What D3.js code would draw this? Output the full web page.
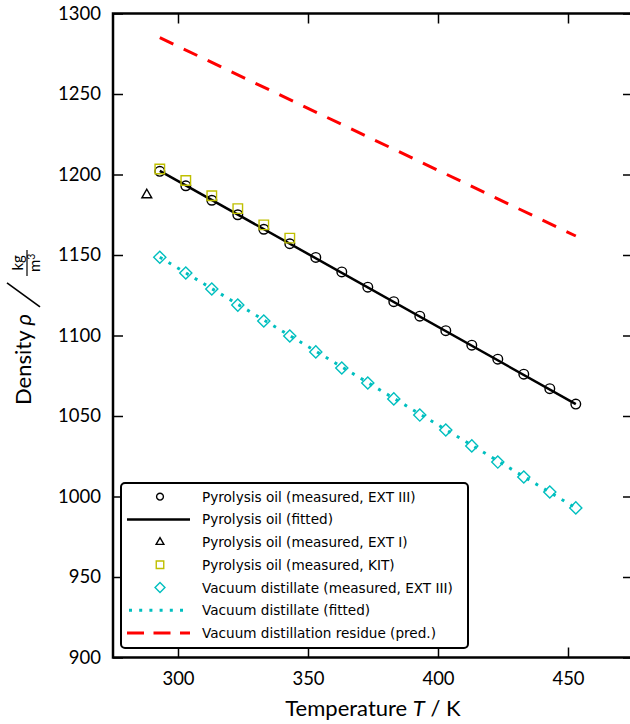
<!DOCTYPE html>
<html>
<head>
<meta charset="utf-8">
<script src="https://cdnjs.cloudflare.com/ajax/libs/d3/7.8.5/d3.min.js"></script>
<style>
  body { margin: 0; background: #fff; }
  text { font-family: Lato, "DejaVu Sans", sans-serif; fill: #000; }
  .leg { font-family: "DejaVu Sans", sans-serif; }
</style>
</head>
<body>
<script>
// measured temperatures (K)
const tempMeas = [293, 303, 313, 323, 333, 343, 353, 363, 373, 383, 393, 403, 413, 423, 433, 443, 453];
// pyrolysis oil, EXT III (kg/m3)
const pyroExt3 = [1202, 1193, 1184, 1175, 1166, 1157, 1148.5, 1139.5, 1130, 1121, 1112, 1103, 1094, 1085.3, 1076, 1067, 1057.4];
// pyrolysis oil, EXT I
const tempExt1 = [288];
const pyroExt1 = [1187.3];
// pyrolysis oil, KIT
const tempKit = [293, 303, 313, 323, 333, 343];
const pyroKit = [1203.4, 1196.3, 1186.8, 1178.8, 1168.7, 1160.5];
// vacuum distillate, EXT III
const vacMeas = [1148.6, 1138.8, 1128.9, 1118.9, 1109, 1099.7, 1089.8, 1079.8, 1070.5, 1060.6, 1050.6, 1041.3, 1031.4, 1021.4, 1012.1, 1002.8, 992.9];
// fitted / predicted lines, end points
const lineT = [293, 453];
const pyroFit = [1202.3, 1057.4];
const vacFit = [1148.6, 992.9];
const residuePred = [1285, 1161.8];

const xTicks = [300, 350, 400, 450];
const yTicks = [900, 950, 1000, 1050, 1100, 1150, 1200, 1250, 1300];

const svgWidth = 630, svgHeight = 724;
const margin = {top: 13.5, left: 113, bottom: 66.5};
const plotRight = 633;

const svg = d3.select("body").append("svg")
  .attr("width", svgWidth)
  .attr("height", svgHeight);

const x = d3.scaleLinear().domain([275, 475]).range([margin.left, plotRight]);
const y = d3.scaleLinear().domain([900, 1300]).range([svgHeight - margin.bottom, margin.top]);

const cyan = "#00bfbf", yellow = "#bfbf00", red = "#ff0000";

// axes, ticks pointing inwards
function styleAxis(g) {
  g.select(".domain").remove();
  g.selectAll(".tick line").attr("stroke", "#000").attr("stroke-width", 1.5);
  g.selectAll(".tick text").style("font-size", "18.5px").attr("fill", "#000");
}
svg.append("g")
  .attr("transform", `translate(0,${y(900)})`)
  .call(d3.axisBottom(x).tickValues(xTicks).tickSize(-10).tickPadding(14).tickFormat(d3.format("d")))
  .call(styleAxis);
svg.append("g")
  .attr("transform", `translate(0,${y(1300)})`)
  .call(d3.axisTop(x).tickValues(xTicks).tickSize(-10).tickFormat(""))
  .call(styleAxis);
svg.append("g")
  .attr("transform", `translate(${x(275)},0)`)
  .call(d3.axisLeft(y).tickValues(yTicks).tickSize(-10).tickPadding(12).tickFormat(d3.format("d")))
  .call(styleAxis);
svg.append("g")
  .attr("transform", `translate(${x(475)},0)`)
  .call(d3.axisRight(y).tickValues(yTicks).tickSize(-10).tickFormat(""))
  .call(styleAxis);

// frame
svg.append("rect")
  .attr("x", x(275)).attr("y", y(1300))
  .attr("width", x(475) - x(275)).attr("height", y(900) - y(1300))
  .attr("fill", "none").attr("stroke", "#000").attr("stroke-width", 2.5);

const line = d3.line().x(d => x(d[0])).y(d => y(d[1]));

// residue prediction
svg.append("path")
  .attr("d", line(d3.zip(lineT, residuePred)))
  .attr("fill", "none").attr("stroke", red).attr("stroke-width", 3)
  .attr("stroke-dasharray", "15,11.5");

// vacuum distillate fit
svg.append("path")
  .attr("d", line(d3.zip(lineT, vacFit)))
  .attr("fill", "none").attr("stroke", cyan).attr("stroke-width", 3)
  .attr("stroke-dasharray", "3,7.2");

// pyrolysis oil fit
svg.append("path")
  .attr("d", line(d3.zip(lineT, pyroFit)))
  .attr("fill", "none").attr("stroke", "#000").attr("stroke-width", 2.5);

const sym = {
  circle: d3.symbol().type(d3.symbolCircle).size(Math.PI * 4.8 * 4.8),
  square: d3.symbol().type(d3.symbolSquare).size(9.5 * 9.5),
  triangle: d3.symbol().type(d3.symbolTriangle).size(42),
  diamond: d3.symbol().type(d3.symbolSquare).size(8.6 * 8.6)
};

function markers(xs, ys, shape, color, rot) {
  svg.append("g").selectAll("path")
    .data(d3.zip(xs, ys))
    .join("path")
    .attr("transform", d => `translate(${x(d[0])},${y(d[1])})` + (rot ? ` rotate(${rot})` : ""))
    .attr("d", sym[shape])
    .attr("fill", "none").attr("stroke", color).attr("stroke-width", 1.4);
}
markers(tempMeas, vacMeas, "diamond", cyan, 45);
markers(tempMeas, pyroExt3, "circle", "#000");
markers(tempExt1, pyroExt1, "triangle", "#000");
markers(tempKit, pyroKit, "square", yellow);

// legend
const legendItems = [
  {label: "Pyrolysis oil (measured, EXT III)", marker: "circle", color: "#000"},
  {label: "Pyrolysis oil (fitted)", line: "solid", color: "#000"},
  {label: "Pyrolysis oil (measured, EXT I)", marker: "triangle", color: "#000"},
  {label: "Pyrolysis oil (measured, KIT)", marker: "square", color: yellow},
  {label: "Vacuum distillate (measured, EXT III)", marker: "diamond", color: cyan},
  {label: "Vacuum distillate (fitted)", line: "dotted", color: cyan},
  {label: "Vacuum distillation residue (pred.)", line: "dashed", color: red}
];
const legend = svg.append("g");
legend.append("rect")
  .attr("x", 121).attr("y", 483).attr("width", 347).attr("height", 165)
  .attr("rx", 4).attr("fill", "#fff").attr("stroke", "#000").attr("stroke-width", 2);
legendItems.forEach((d, i) => {
  const cy = 496.7 + i * 22.7;
  if (d.marker) {
    legend.append("path")
      .attr("transform", `translate(160,${cy})` + (d.marker === "diamond" ? " rotate(45)" : ""))
      .attr("d", d.marker === "circle" ? d3.symbol().type(d3.symbolCircle).size(Math.PI * 3.4 * 3.4)()
        : d.marker === "square" ? d3.symbol().type(d3.symbolSquare).size(7.5 * 7.5)()
        : d.marker === "triangle" ? d3.symbol().type(d3.symbolTriangle).size(26)()
        : d3.symbol().type(d3.symbolSquare).size(7 * 7)())
      .attr("fill", "none").attr("stroke", d.color).attr("stroke-width", 1.4);
  } else {
    const p = legend.append("line")
      .attr("x1", 127).attr("x2", 190).attr("y1", cy).attr("y2", cy)
      .attr("stroke", d.color).attr("stroke-width", d.line === "solid" ? 2.5 : 3);
    if (d.line === "dotted") p.attr("stroke-dasharray", "3,7.2").attr("x1", 129);
    if (d.line === "dashed") p.attr("stroke-dasharray", "17,9.5");
  }
  legend.append("text")
    .attr("class", "leg")
    .attr("x", 202).attr("y", cy + 5)
    .style("font-size", "13.6px")
    .text(d.label);
});

// x axis title
const xt = svg.append("text")
  .attr("x", (x(275) + x(475)) / 2).attr("y", 716)
  .attr("text-anchor", "middle")
  .style("font-size", "22px");
xt.append("tspan").text("Temperature  ");
xt.append("tspan").style("font-style", "italic").text("T");
xt.append("tspan").text(" / K");

// y axis title: Density ρ / (kg / m³)
const yt = svg.append("g").attr("transform", "translate(31,335) rotate(-90)");
const dens = yt.append("text")
  .attr("x", -70).attr("y", 0)
  .style("font-size", "22px");
dens.append("tspan").text("Density ");
dens.append("tspan").style("font-style", "italic").text("ρ");
const dw = dens.node().getComputedTextLength();
const s0 = -70 + dw + 7;
yt.append("line")
  .attr("x1", s0).attr("y1", 9).attr("x2", s0 + 24).attr("y2", -24)
  .attr("stroke", "#000").attr("stroke-width", 1.6);
const f0 = s0 + 31;
yt.append("line")
  .attr("x1", f0).attr("x2", f0 + 26).attr("y1", -4).attr("y2", -4)
  .attr("stroke", "#000").attr("stroke-width", 1.2);
yt.append("text")
  .attr("x", f0 + 13).attr("y", -8)
  .attr("text-anchor", "middle")
  .style("font-size", "15px")
  .text("kg");
const mt = yt.append("text")
  .attr("x", f0 + 13).attr("y", 9)
  .attr("text-anchor", "middle")
  .style("font-size", "15px");
mt.append("tspan").text("m");
mt.append("tspan").attr("dy", -5).style("font-size", "10.5px").text("3");
</script>
</body>
</html>
